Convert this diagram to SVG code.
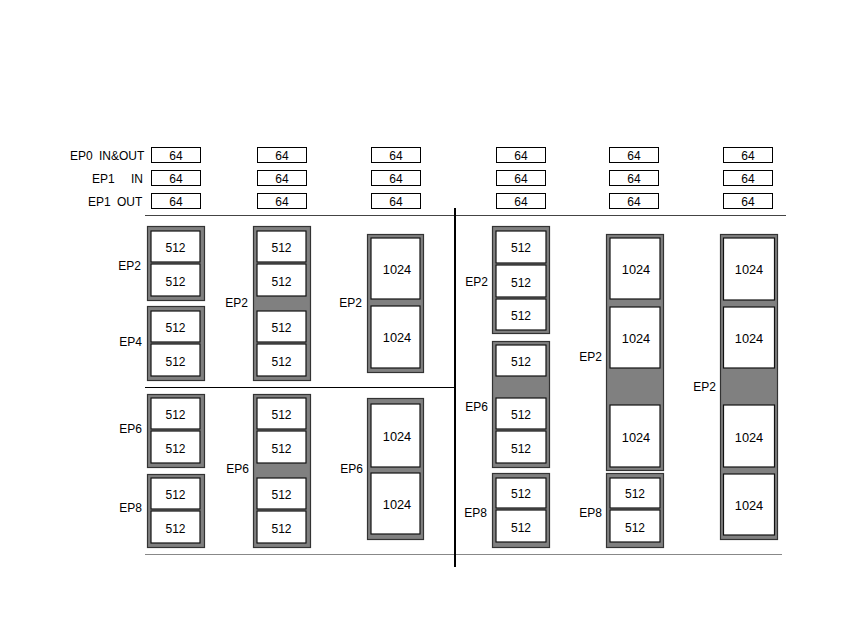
<svg xmlns="http://www.w3.org/2000/svg" width="850" height="638" viewBox="0 0 850 638">
<style>
text{font-family:"Liberation Sans",Arial,sans-serif;font-size:12px;fill:#000}
.c{text-anchor:middle}
.e{text-anchor:end}
.k{font-size:12.8px}
.s{fill:#fff;stroke:#000;stroke-width:1}
.f{fill:#808080;stroke:#333;stroke-width:1.2}
.b{fill:#fff;stroke:#111;stroke-width:1.2}
</style>
<rect width="850" height="638" fill="#fff"/>
<g id="rowlabels">
<text x="70" y="160">EP0<tspan x="99">IN&amp;OUT</tspan></text>
<text x="92" y="183">EP1<tspan x="131">IN</tspan></text>
<text x="88" y="206">EP1<tspan x="117">OUT</tspan></text>
</g>
<g id="small64">
<rect class="s" x="151.5" y="147.5" width="49" height="15"/><text class="c" x="176" y="160">64</text>
<rect class="s" x="151.5" y="170.5" width="49" height="15"/><text class="c" x="176" y="183">64</text>
<rect class="s" x="151.5" y="193.5" width="49" height="15"/><text class="c" x="176" y="206">64</text>
<rect class="s" x="257.5" y="147.5" width="49" height="15"/><text class="c" x="282" y="160">64</text>
<rect class="s" x="257.5" y="170.5" width="49" height="15"/><text class="c" x="282" y="183">64</text>
<rect class="s" x="257.5" y="193.5" width="49" height="15"/><text class="c" x="282" y="206">64</text>
<rect class="s" x="371.5" y="147.5" width="49" height="15"/><text class="c" x="396" y="160">64</text>
<rect class="s" x="371.5" y="170.5" width="49" height="15"/><text class="c" x="396" y="183">64</text>
<rect class="s" x="371.5" y="193.5" width="49" height="15"/><text class="c" x="396" y="206">64</text>
<rect class="s" x="496.5" y="147.5" width="49" height="15"/><text class="c" x="521" y="160">64</text>
<rect class="s" x="496.5" y="170.5" width="49" height="15"/><text class="c" x="521" y="183">64</text>
<rect class="s" x="496.5" y="193.5" width="49" height="15"/><text class="c" x="521" y="206">64</text>
<rect class="s" x="609.5" y="147.5" width="49" height="15"/><text class="c" x="634" y="160">64</text>
<rect class="s" x="609.5" y="170.5" width="49" height="15"/><text class="c" x="634" y="183">64</text>
<rect class="s" x="609.5" y="193.5" width="49" height="15"/><text class="c" x="634" y="206">64</text>
<rect class="s" x="723.5" y="147.5" width="49" height="15"/><text class="c" x="748" y="160">64</text>
<rect class="s" x="723.5" y="170.5" width="49" height="15"/><text class="c" x="748" y="183">64</text>
<rect class="s" x="723.5" y="193.5" width="49" height="15"/><text class="c" x="748" y="206">64</text>
</g>
<g id="lines">
<line x1="145" y1="215.5" x2="786" y2="215.5" stroke="#444" stroke-width="1"/>
<line x1="145" y1="387.5" x2="455" y2="387.5" stroke="#000" stroke-width="1"/>
<line x1="145" y1="554.5" x2="782" y2="554.5" stroke="#888" stroke-width="1"/>
<line x1="455" y1="208" x2="455" y2="567" stroke="#000" stroke-width="2"/>
</g>
<!-- column 1 -->
<g id="c1-ep2">
<rect class="f" x="147.5" y="226.5" width="57" height="74"/>
<rect class="b" x="151" y="231" width="49" height="31"/><text class="c" x="175.5" y="252">512</text>
<rect class="b" x="151" y="264" width="49" height="32"/><text class="c" x="175.5" y="286">512</text>
<text class="e" x="141" y="270">EP2</text>
</g>
<g id="c1-ep4">
<rect class="f" x="147.5" y="306.5" width="57" height="74"/>
<rect class="b" x="151" y="311" width="49" height="31"/><text class="c" x="175.5" y="332">512</text>
<rect class="b" x="151" y="344" width="49" height="32"/><text class="c" x="175.5" y="366">512</text>
<text class="e" x="142" y="346">EP4</text>
</g>
<g id="c1-ep6">
<rect class="f" x="147.5" y="394.5" width="57" height="73"/>
<rect class="b" x="151" y="398" width="49" height="31"/><text class="c" x="175.5" y="419">512</text>
<rect class="b" x="151" y="431" width="49" height="32"/><text class="c" x="175.5" y="453">512</text>
<text class="e" x="142" y="433">EP6</text>
</g>
<g id="c1-ep8">
<rect class="f" x="147.5" y="474.5" width="57" height="73"/>
<rect class="b" x="151" y="478" width="49" height="31"/><text class="c" x="175.5" y="499">512</text>
<rect class="b" x="151" y="511" width="49" height="32"/><text class="c" x="175.5" y="533">512</text>
<text class="e" x="142" y="512">EP8</text>
</g>
<!-- column 2 -->
<g id="c2-ep2">
<rect class="f" x="253.5" y="226.5" width="57" height="154"/>
<rect class="b" x="257" y="231" width="49" height="31"/><text class="c" x="281.5" y="252">512</text>
<rect class="b" x="257" y="264" width="49" height="32"/><text class="c" x="281.5" y="286">512</text>
<rect class="b" x="257" y="311" width="49" height="31"/><text class="c" x="281.5" y="332">512</text>
<rect class="b" x="257" y="344" width="49" height="32"/><text class="c" x="281.5" y="366">512</text>
<text class="e" x="248" y="307">EP2</text>
</g>
<g id="c2-ep6">
<rect class="f" x="253.5" y="394.5" width="57" height="153"/>
<rect class="b" x="257" y="398" width="49" height="31"/><text class="c" x="281.5" y="419">512</text>
<rect class="b" x="257" y="431" width="49" height="32"/><text class="c" x="281.5" y="453">512</text>
<rect class="b" x="257" y="478" width="49" height="31"/><text class="c" x="281.5" y="499">512</text>
<rect class="b" x="257" y="511" width="49" height="32"/><text class="c" x="281.5" y="533">512</text>
<text class="e" x="249" y="473">EP6</text>
</g>
<!-- column 3 -->
<g id="c3-ep2">
<rect class="f" x="367.5" y="234.5" width="56" height="138"/>
<rect class="b" x="371" y="238" width="49" height="61"/><text class="c k" x="397" y="274">1024</text>
<rect class="b" x="371" y="306" width="49" height="62"/><text class="c k" x="397" y="342">1024</text>
<text class="e" x="362" y="307">EP2</text>
</g>
<g id="c3-ep6">
<rect class="f" x="367.5" y="398.5" width="56" height="141"/>
<rect class="b" x="371" y="404" width="49" height="63"/><text class="c k" x="397" y="441">1024</text>
<rect class="b" x="371" y="473" width="49" height="61"/><text class="c k" x="397" y="509">1024</text>
<text class="e" x="363" y="473">EP6</text>
</g>
<!-- column 4 -->
<g id="c4-ep2">
<rect class="f" x="492.5" y="226.5" width="57" height="107"/>
<rect class="b" x="496" y="231" width="50" height="32"/><text class="c" x="521" y="252">512</text>
<rect class="b" x="496" y="265" width="50" height="32"/><text class="c" x="521" y="287">512</text>
<rect class="b" x="496" y="299" width="50" height="31"/><text class="c" x="521" y="320">512</text>
<text class="e" x="488" y="286">EP2</text>
</g>
<g id="c4-ep6">
<rect class="f" x="492.5" y="341.5" width="57" height="126"/>
<rect class="b" x="496" y="345" width="50" height="31"/><text class="c" x="521" y="366">512</text>
<rect class="b" x="496" y="398" width="50" height="31"/><text class="c" x="521" y="419">512</text>
<rect class="b" x="496" y="431" width="50" height="32"/><text class="c" x="521" y="453">512</text>
<text class="e" x="488" y="411">EP6</text>
</g>
<g id="c4-ep8">
<rect class="f" x="492.5" y="473.5" width="57" height="74"/>
<rect class="b" x="496" y="478" width="50" height="30"/><text class="c" x="521" y="498">512</text>
<rect class="b" x="496" y="510" width="50" height="32"/><text class="c" x="521" y="532">512</text>
<text class="e" x="487" y="517">EP8</text>
</g>
<!-- column 5 -->
<g id="c5-ep2">
<rect class="f" x="606.5" y="234.5" width="57" height="236"/>
<rect class="b" x="610" y="238" width="50" height="61"/><text class="c k" x="636" y="274">1024</text>
<rect class="b" x="610" y="307" width="50" height="61"/><text class="c k" x="636" y="343">1024</text>
<rect class="b" x="610" y="405" width="50" height="62"/><text class="c k" x="636" y="442">1024</text>
<text class="e" x="602" y="361">EP2</text>
</g>
<g id="c5-ep8">
<rect class="f" x="606.5" y="473.5" width="57" height="74"/>
<rect class="b" x="610" y="478" width="50" height="30"/><text class="c" x="635" y="498">512</text>
<rect class="b" x="610" y="510" width="50" height="32"/><text class="c" x="635" y="532">512</text>
<text class="e" x="602" y="517">EP8</text>
</g>
<!-- column 6 -->
<g id="c6-ep2">
<rect class="f" x="720.5" y="234.5" width="57" height="305"/>
<rect class="b" x="723.5" y="238" width="51" height="62"/><text class="c k" x="749" y="274">1024</text>
<rect class="b" x="723.5" y="307" width="51" height="61"/><text class="c k" x="749" y="343">1024</text>
<rect class="b" x="723.5" y="405" width="51" height="62"/><text class="c k" x="749" y="442">1024</text>
<rect class="b" x="723.5" y="474" width="51" height="61"/><text class="c k" x="749" y="510">1024</text>
<text class="e" x="716" y="391">EP2</text>
</g>
</svg>
